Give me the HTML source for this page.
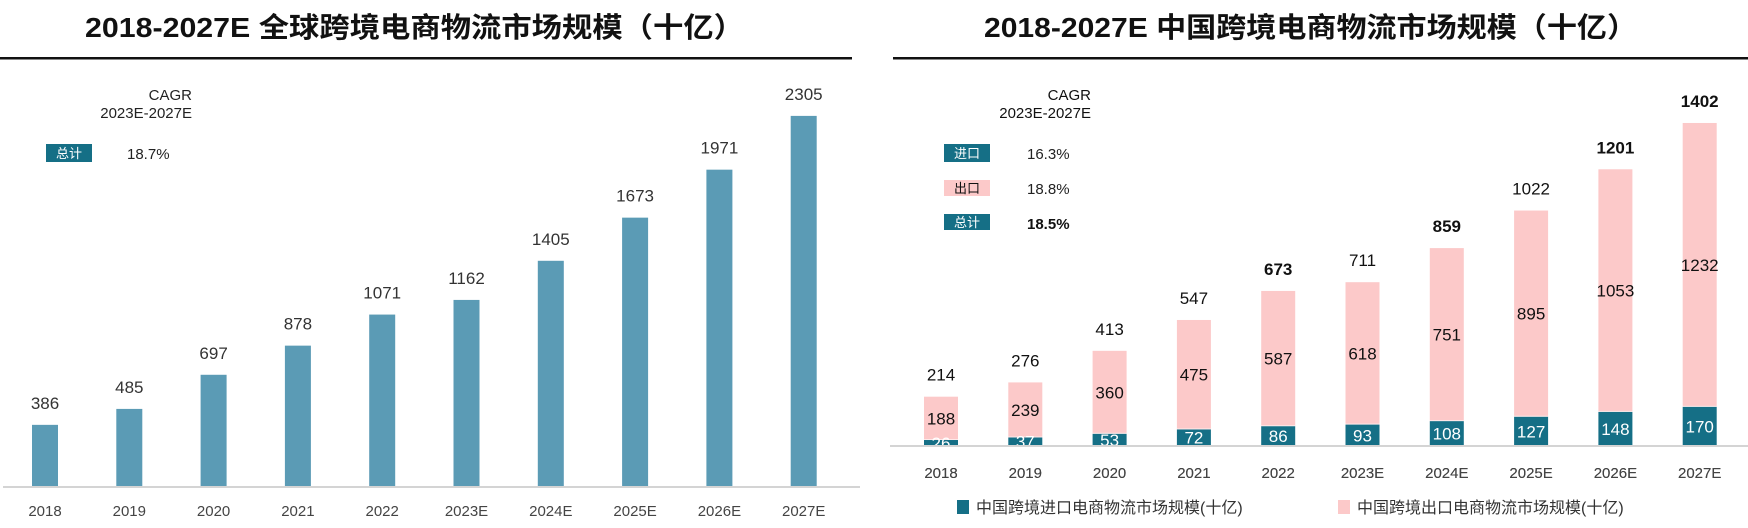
<!DOCTYPE html>
<html><head><meta charset="utf-8"><style>
html,body{margin:0;padding:0;background:#fff;}
svg{display:block;}
text{font-family:"Liberation Sans","Noto Sans CJK SC",sans-serif;}
</style></head><body>
<svg id="s" width="1748" height="528" xmlns="http://www.w3.org/2000/svg">
<rect width="1748" height="528" fill="#fff"/>
<text x="85" y="37" font-size="28" font-weight="bold" fill="#111" textLength="659" lengthAdjust="spacingAndGlyphs">2018-2027E 全球跨境电商物流市场规模（十亿）</text>
<text x="984" y="37" font-size="28" font-weight="bold" fill="#111" textLength="653" lengthAdjust="spacingAndGlyphs">2018-2027E 中国跨境电商物流市场规模（十亿）</text>
<rect x="0" y="57" width="852" height="2.5" fill="#111"/>
<rect x="893" y="57" width="855" height="2.5" fill="#111"/>
<!-- left CAGR -->
<text x="192" y="100" font-size="15" text-anchor="end" fill="#222">CAGR</text>
<text x="192" y="118" font-size="15" text-anchor="end" fill="#222">2023E-2027E</text>
<rect x="46" y="144" width="46" height="18" fill="#156f86"/>
<text x="69" y="158" font-size="13" text-anchor="middle" fill="#fff">总计</text>
<text x="127" y="159" font-size="15" fill="#222">18.7%</text>
<!-- right CAGR -->
<text x="1091" y="100" font-size="15" text-anchor="end" fill="#111">CAGR</text>
<text x="1091" y="118" font-size="15" text-anchor="end" fill="#111">2023E-2027E</text>
<rect x="944" y="144" width="46" height="18" fill="#156f86"/>
<text x="967" y="158" font-size="13" text-anchor="middle" fill="#fff">进口</text>
<text x="1027" y="159" font-size="15" fill="#222">16.3%</text>
<rect x="944" y="180" width="46" height="16" fill="#fcc9c9"/>
<text x="967" y="193" font-size="13" text-anchor="middle" fill="#111">出口</text>
<text x="1027" y="194" font-size="15" fill="#222">18.8%</text>
<rect x="944" y="214" width="46" height="16" fill="#156f86"/>
<text x="967" y="227" font-size="13" text-anchor="middle" fill="#fff">总计</text>
<text x="1027" y="229" font-size="15" font-weight="bold" fill="#111">18.5%</text>
<g id="g"></g>
<!-- legend -->
<rect x="957" y="500" width="12" height="14" fill="#156f86"/>
<text x="976" y="513" font-size="16" fill="#333">中国跨境进口电商物流市场规模(十亿)</text>
<rect x="1338" y="500" width="12" height="14" fill="#fcc9c9"/>
<text x="1357" y="513" font-size="16" fill="#333">中国跨境出口电商物流市场规模(十亿)</text>
</svg>
<script>
var g=document.getElementById('g'),h='';
var yrs=['2018','2019','2020','2021','2022','2023E','2024E','2025E','2026E','2027E'];
var L=[386,485,697,878,1071,1162,1405,1673,1971,2305];
for(var i=0;i<10;i++){var cx=45+i*84.3,hh=L[i]*0.161,t=487-hh;
h+='<rect x="'+(cx-13)+'" y="'+t+'" width="26" height="'+hh+'" fill="#5b9bb5"/>';
h+='<text x="'+cx+'" y="'+(t-16)+'" font-size="17" text-anchor="middle" fill="#333">'+L[i]+'</text>';
h+='<text x="'+cx+'" y="516" font-size="15" text-anchor="middle" fill="#444">'+yrs[i]+'</text>';}
h+='<rect x="3" y="486" width="857" height="2" fill="#d4d4d4"/>';
var I=[26,37,53,72,86,93,108,127,148,170],E=[188,239,360,475,587,618,751,895,1053,1232],T=[214,276,413,547,673,711,859,1022,1201,1402];
var k=0.2304,B=446;
for(var i=0;i<10;i++){var cx=941+i*84.3,hi=I[i]*k,he=E[i]*k,ti=B-hi,te=ti-he;
h+='<rect x="'+(cx-17)+'" y="'+te+'" width="34" height="'+he+'" fill="#fcc9c9"/>';
h+='<rect x="'+(cx-17)+'" y="'+ti+'" width="34" height="'+hi+'" fill="#156f86"/>';
h+='<rect x="'+(cx-17)+'" y="'+(ti-1)+'" width="34" height="1" fill="#fff" opacity="0.6"/>';
h+='<text x="'+cx+'" y="'+(te+he/2+6)+'" font-size="17" text-anchor="middle" fill="#111">'+E[i]+'</text>';
h+='<text x="'+cx+'" y="'+(ti+hi/2+6)+'" font-size="17" text-anchor="middle" fill="#fff">'+I[i]+'</text>';
h+='<text x="'+cx+'" y="'+(te-16)+'" font-size="17" text-anchor="middle" fill="#111"'+(i==4||i==6||i==8||i==9?' font-weight="bold"':'')+'>'+T[i]+'</text>';
h+='<text x="'+cx+'" y="478" font-size="15" text-anchor="middle" fill="#444">'+yrs[i]+'</text>';}
h+='<rect x="880" y="446" width="33" height="0" fill="none"/>';
h+='<rect x="0" y="447" width="0" height="0"/>';
h+='<rect x="890" y="446" width="858" height="12" fill="#fff"/><rect x="890" y="445" width="858" height="2" fill="#d4d4d4"/>';
h+='<g>';for(var i=0;i<10;i++){h+='<text x="'+(941+i*84.3)+'" y="478" font-size="15" text-anchor="middle" fill="#444">'+yrs[i]+'</text>';}h+='</g>';
g.innerHTML=h;
</script>
</body></html>
